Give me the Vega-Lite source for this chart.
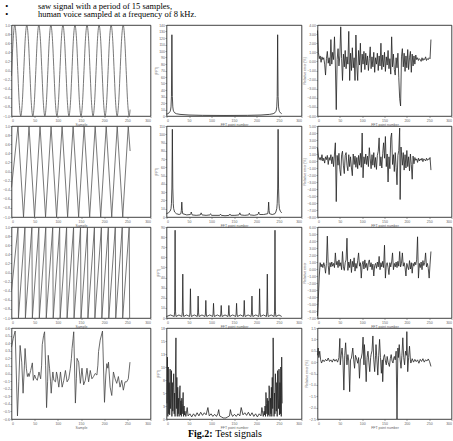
{
"$schema": "https://vega.github.io/schema/vega-lite/v6.json",
"padding": {"left": 1.5, "top": 1, "right": 0, "bottom": 0},
"background": "white",
"title": {"text": ["•\u00a0\u00a0\u00a0\u00a0\u00a0\u00a0\u00a0\u00a0\u00a0\u00a0\u00a0\u00a0\u00a0\u00a0saw signal with a period of 15 samples,", "•\u00a0\u00a0\u00a0\u00a0\u00a0\u00a0\u00a0\u00a0\u00a0\u00a0\u00a0\u00a0\u00a0\u00a0human voice sampled at a frequency of 8 kHz."], "anchor": "start", "frame": "bounds", "font": "Liberation Serif", "fontSize": 8.5, "fontWeight": "normal", "lineHeight": 8.5, "offset": 4, "dx": 3, "color": "#000"},
"datasets": {
"a1": [{"x":0,"y":-0.12},{"x":0.5,"y":0},{"x":3.75,"y":0.71},{"x":7,"y":1},{"x":10.25,"y":0.71},{"x":13.5,"y":0},{"x":16.75,"y":-0.71},{"x":20,"y":-1},{"x":23.25,"y":-0.71},
{"x":26.5,"y":0},{"x":29.75,"y":0.71},{"x":33,"y":1},{"x":36.25,"y":0.71},{"x":39.5,"y":0},{"x":42.75,"y":-0.71},{"x":46,"y":-1},{"x":49.25,"y":-0.71},
{"x":52.5,"y":0},{"x":55.75,"y":0.71},{"x":59,"y":1},{"x":62.25,"y":0.71},{"x":65.5,"y":0},{"x":68.75,"y":-0.71},{"x":72,"y":-1},{"x":75.25,"y":-0.71},
{"x":78.5,"y":0},{"x":81.75,"y":0.71},{"x":85,"y":1},{"x":88.25,"y":0.71},{"x":91.5,"y":0},{"x":94.75,"y":-0.71},{"x":98,"y":-1},{"x":101.25,"y":-0.71},
{"x":104.5,"y":0},{"x":107.75,"y":0.71},{"x":111,"y":1},{"x":114.25,"y":0.71},{"x":117.5,"y":0},{"x":120.75,"y":-0.71},{"x":124,"y":-1},{"x":127.25,"y":-0.71},
{"x":130.5,"y":0},{"x":133.75,"y":0.71},{"x":137,"y":1},{"x":140.25,"y":0.71},{"x":143.5,"y":0},{"x":146.75,"y":-0.71},{"x":150,"y":-1},{"x":153.25,"y":-0.71},
{"x":156.5,"y":0},{"x":159.75,"y":0.71},{"x":163,"y":1},{"x":166.25,"y":0.71},{"x":169.5,"y":0},{"x":172.75,"y":-0.71},{"x":176,"y":-1},{"x":179.25,"y":-0.71},
{"x":182.5,"y":0},{"x":185.75,"y":0.71},{"x":189,"y":1},{"x":192.25,"y":0.71},{"x":195.5,"y":0},{"x":198.75,"y":-0.71},{"x":202,"y":-1},{"x":205.25,"y":-0.71},
{"x":208.5,"y":0},{"x":211.75,"y":0.71},{"x":215,"y":1},{"x":218.25,"y":0.71},{"x":221.5,"y":0},{"x":224.75,"y":-0.71},{"x":228,"y":-1},{"x":231.25,"y":-0.71},
{"x":234.5,"y":0},{"x":237.75,"y":0.71},{"x":241,"y":1},{"x":244.25,"y":0.71},{"x":247.5,"y":0},{"x":250.75,"y":-0.71},{"x":254,"y":-1},{"x":256,"y":-0.86}],
"a2": [{"x":0,"y":-0.35},{"x":14,"y":1},{"x":25.9,"y":-1},{"x":37.8,"y":1},{"x":49.7,"y":-1},{"x":61.6,"y":1},{"x":73.5,"y":-1},{"x":85.4,"y":1},{"x":97.3,"y":-1},{"x":109.2,"y":1},{"x":121.1,"y":-1},{"x":133,"y":1},{"x":144.9,"y":-1},{"x":156.8,"y":1},{"x":168.7,"y":-1},{"x":180.6,"y":1},{"x":192.5,"y":-1},{"x":204.4,"y":1},{"x":216.3,"y":-1},{"x":228.2,"y":1},{"x":240.1,"y":-1},{"x":252,"y":1},{"x":256,"y":0.45}],
"a3": [{"x":0,"y":-0.4},{"x":14,"y":1},{"x":15,"y":-1},{"x":29,"y":1},{"x":30,"y":-1},{"x":44,"y":1},{"x":45,"y":-1},{"x":59,"y":1},{"x":60,"y":-1},{"x":74,"y":1},{"x":75,"y":-1},{"x":89,"y":1},{"x":90,"y":-1},{"x":104,"y":1},{"x":105,"y":-1},{"x":119,"y":1},{"x":120,"y":-1},{"x":134,"y":1},{"x":135,"y":-1},{"x":149,"y":1},{"x":150,"y":-1},{"x":164,"y":1},{"x":165,"y":-1},{"x":179,"y":1},{"x":180,"y":-1},{"x":194,"y":1},{"x":195,"y":-1},{"x":209,"y":1},{"x":210,"y":-1},{"x":224,"y":1},{"x":225,"y":-1},{"x":239,"y":1},{"x":240,"y":-1},{"x":254,"y":1},{"x":255,"y":-1}],
"a4": [{"x":0,"y":0.35},{"x":3.6,"y":0.46},{"x":7.9,"y":0.56},{"x":12.9,"y":-0.56},{"x":15.7,"y":-0.11},{"x":18.6,"y":0.37},{"x":22.1,"y":0.15},{"x":25,"y":-0.26},{"x":27.9,"y":0.11},{"x":29.3,"y":0.33},{"x":32.1,"y":0.07},{"x":34.3,"y":-0.04},{"x":36.4,"y":0},{"x":37.9,"y":-0.04},{"x":41.4,"y":0.04},{"x":45,"y":0.14},{"x":47.1,"y":-0.09},{"x":50,"y":-0.02},{"x":52.1,"y":-0.06},{"x":55.7,"y":-0.09},{"x":59.3,"y":0.02},{"x":62.9,"y":-0.07},{"x":65,"y":0.11},{"x":66.4,"y":0.38},{"x":69.3,"y":0.5},{"x":71.4,"y":0.55},{"x":73.6,"y":0.11},{"x":75.7,"y":-0.45},{"x":77.9,"y":-0.11},{"x":79.3,"y":0.24},{"x":82.1,"y":0.07},{"x":84.3,"y":-0.11},{"x":85.7,"y":-0.26},{"x":87.9,"y":-0.07},{"x":89.3,"y":0.02},{"x":91.4,"y":-0.09},{"x":95,"y":-0.11},{"x":97.1,"y":0.02},{"x":98.6,"y":-0.02},{"x":102.1,"y":-0.18},{"x":105.7,"y":0.02},{"x":109.3,"y":-0.18},{"x":112.9,"y":-0.09},{"x":116.4,"y":0.04},{"x":120,"y":-0.11},{"x":123.6,"y":-0.07},{"x":127.1,"y":0.07},{"x":129.3,"y":0.2},{"x":130.7,"y":0.33},{"x":132.9,"y":0.46},{"x":134.3,"y":0.55},{"x":137.9,"y":-0.39},{"x":140,"y":-0.07},{"x":141.4,"y":0.2},{"x":145,"y":0.15},{"x":148.6,"y":-0.13},{"x":152.1,"y":0.07},{"x":155.7,"y":-0.15},{"x":159.3,"y":-0.09},{"x":162.9,"y":0.07},{"x":166.4,"y":-0.11},{"x":170,"y":0.04},{"x":173.6,"y":-0.07},{"x":177.1,"y":-0.04},{"x":180.7,"y":0},{"x":184.3,"y":-0.02},{"x":186.4,"y":0.11},{"x":187.9,"y":0.29},{"x":191.4,"y":0.44},{"x":196.4,"y":0.56},{"x":200.7,"y":-0.38},{"x":203.6,"y":-0.02},{"x":205.7,"y":0.13},{"x":207.9,"y":0.07},{"x":209.3,"y":0.15},{"x":212.9,"y":-0.18},{"x":216.4,"y":-0.29},{"x":220,"y":0.02},{"x":223.6,"y":-0.07},{"x":227.1,"y":-0.13},{"x":230.7,"y":-0.04},{"x":234.3,"y":-0.18},{"x":237.9,"y":-0.09},{"x":241.4,"y":-0.22},{"x":245,"y":-0.11},{"x":248.6,"y":-0.11},{"x":252.1,"y":-0.07},{"x":255.7,"y":0.15}],
"b1": [{"x":0,"y":3},{"x":3,"y":3.5},{"x":6,"y":5},{"x":8,"y":7},{"x":9,"y":9},{"x":10,"y":14},{"x":11,"y":30},{"x":12,"y":125},{"x":13,"y":30},{"x":14,"y":14},{"x":15,"y":9},{"x":16,"y":7},{"x":18,"y":5},{"x":22,"y":3.5},{"x":30,"y":2.5},{"x":50,"y":1.5},{"x":80,"y":1},{"x":130,"y":0.8},{"x":180,"y":1},{"x":210,"y":1.5},{"x":229,"y":2.5},{"x":237,"y":3.5},{"x":241,"y":5},{"x":243,"y":7},{"x":244,"y":9},{"x":245,"y":14},{"x":246,"y":30},{"x":247,"y":125},{"x":248,"y":30},{"x":249,"y":14},{"x":250,"y":9},{"x":251,"y":7},{"x":253,"y":5},{"x":256,"y":3.5}],
"b2": [{"x":0,"y":4},{"x":4,"y":5},{"x":8,"y":7},{"x":10,"y":10},{"x":11,"y":16},{"x":12,"y":35},{"x":13,"y":106},{"x":14,"y":35},{"x":15,"y":16},{"x":16,"y":10},{"x":18,"y":6},{"x":22,"y":4},{"x":28,"y":3},{"x":32,"y":4},{"x":33,"y":8},{"x":34,"y":18},{"x":35,"y":8},{"x":36,"y":4},{"x":45,"y":2.5},{"x":53,"y":3},{"x":54,"y":4},{"x":55,"y":6},{"x":56,"y":4},{"x":57,"y":2.5},{"x":66,"y":2},{"x":75,"y":2.5},{"x":76,"y":3.5},{"x":77,"y":5},{"x":78,"y":3.5},{"x":79,"y":2.5},{"x":88,"y":2},{"x":96,"y":2.5},{"x":97,"y":3},{"x":98,"y":4},{"x":99,"y":3},{"x":100,"y":2},{"x":110,"y":2},{"x":118,"y":2},{"x":119,"y":2.5},{"x":120,"y":3.5},{"x":121,"y":2.5},{"x":122,"y":2},{"x":130,"y":1.5},{"x":139,"y":2},{"x":140,"y":2.5},{"x":141,"y":3.5},{"x":142,"y":2.5},{"x":143,"y":2},{"x":152,"y":2},{"x":161,"y":2.5},{"x":162,"y":3.5},{"x":163,"y":5},{"x":164,"y":3.5},{"x":165,"y":2.5},{"x":174,"y":2},{"x":182,"y":2.5},{"x":183,"y":3},{"x":184,"y":4.5},{"x":185,"y":3},{"x":186,"y":2.5},{"x":195,"y":2},{"x":203,"y":3},{"x":204,"y":4},{"x":205,"y":6},{"x":206,"y":4},{"x":207,"y":3},{"x":216,"y":3},{"x":225,"y":4},{"x":226,"y":8},{"x":227,"y":18},{"x":228,"y":8},{"x":229,"y":4},{"x":235,"y":3},{"x":241,"y":4},{"x":243,"y":6},{"x":245,"y":10},{"x":246,"y":16},{"x":247,"y":35},{"x":248,"y":106},{"x":249,"y":35},{"x":250,"y":16},{"x":251,"y":10},{"x":253,"y":7},{"x":256,"y":5}],
"b3": [{"x":0,"y":1.5},{"x":9,"y":3},
{"x":17.1,"y":1.5},{"x":18.1,"y":6},{"x":19.1,"y":86.8},{"x":20.1,"y":6},{"x":21.1,"y":1.5},{"x":27.65,"y":3},
{"x":34.2,"y":1.5},{"x":35.2,"y":6},{"x":36.2,"y":43.4},{"x":37.2,"y":6},{"x":38.2,"y":1.5},{"x":44.7,"y":3},
{"x":51.2,"y":1.5},{"x":52.2,"y":5},{"x":53.2,"y":28.9},{"x":54.2,"y":5},{"x":55.2,"y":1.5},{"x":61.75,"y":3},
{"x":68.3,"y":1.5},{"x":69.3,"y":5},{"x":70.3,"y":21.7},{"x":71.3,"y":5},{"x":72.3,"y":1.5},{"x":78.85,"y":3},
{"x":85.4,"y":1.5},{"x":86.4,"y":4},{"x":87.4,"y":17.4},{"x":88.4,"y":4},{"x":89.4,"y":1.5},{"x":95.95,"y":3},
{"x":102.5,"y":1.5},{"x":103.5,"y":4},{"x":104.5,"y":14.5},{"x":105.5,"y":4},{"x":106.5,"y":1.5},{"x":113.05,"y":3},
{"x":119.6,"y":1.5},{"x":120.6,"y":4},{"x":121.6,"y":12.4},{"x":122.6,"y":4},{"x":123.6,"y":1.5},{"x":130.1,"y":3},
{"x":136.6,"y":1.5},{"x":137.6,"y":4},{"x":138.6,"y":12.4},{"x":139.6,"y":4},{"x":140.6,"y":1.5},{"x":147.15,"y":3},
{"x":153.7,"y":1.5},{"x":154.7,"y":4},{"x":155.7,"y":14.5},{"x":156.7,"y":4},{"x":157.7,"y":1.5},{"x":164.25,"y":3},
{"x":170.8,"y":1.5},{"x":171.8,"y":4},{"x":172.8,"y":17.4},{"x":173.8,"y":4},{"x":174.8,"y":1.5},{"x":181.35,"y":3},
{"x":187.9,"y":1.5},{"x":188.9,"y":5},{"x":189.9,"y":21.7},{"x":190.9,"y":5},{"x":191.9,"y":1.5},{"x":198.4,"y":3},
{"x":204.9,"y":1.5},{"x":205.9,"y":5},{"x":206.9,"y":28.9},{"x":207.9,"y":5},{"x":208.9,"y":1.5},{"x":215.45,"y":3},
{"x":222,"y":1.5},{"x":223,"y":6},{"x":224,"y":43.4},{"x":225,"y":6},{"x":226,"y":1.5},{"x":232.55,"y":3},
{"x":239.1,"y":1.5},{"x":240.1,"y":6},{"x":241.1,"y":86.8},{"x":242.1,"y":6},{"x":243.1,"y":1.5},{"x":250,"y":3},{"x":256,"y":1.5}],
"b4": [{"x":1,"y":3},{"x":2,"y":11.9},{"x":3,"y":0.5},{"x":4,"y":10},{"x":5,"y":1},{"x":6,"y":7},{"x":7,"y":0.8},{"x":8,"y":9.6},{"x":9,"y":2},{"x":10,"y":4},{"x":11,"y":9.3},{"x":12,"y":0.5},{"x":13,"y":7},{"x":14,"y":1.5},{"x":15,"y":6},{"x":16,"y":8.7},{"x":17,"y":1},{"x":18,"y":5},{"x":19,"y":0.5},{"x":20,"y":10},{"x":21,"y":15.6},{"x":22,"y":2},{"x":23,"y":8},{"x":24,"y":0.5},{"x":25,"y":6.1},{"x":26,"y":1},{"x":27,"y":4},{"x":28,"y":0.5},{"x":29,"y":5},{"x":30,"y":6.4},{"x":31,"y":0.8},{"x":32,"y":3.5},{"x":33,"y":0.5},{"x":34,"y":4},{"x":35,"y":1},{"x":36,"y":3},{"x":37,"y":5.1},{"x":38,"y":0.5},{"x":39,"y":2.5},{"x":40,"y":0.8},{"x":41,"y":1.5},{"x":43,"y":0.5},{"x":46,"y":2.2},{"x":48,"y":0.6},{"x":52,"y":1},{"x":56,"y":0.4},{"x":60,"y":1},{"x":64,"y":0.5},{"x":68,"y":1.2},{"x":72,"y":0.6},{"x":76,"y":1.3},{"x":80,"y":0.7},{"x":84,"y":1.2},{"x":88,"y":0.8},{"x":92,"y":2.2},{"x":95,"y":0.6},{"x":99,"y":1},{"x":103,"y":0.5},{"x":107,"y":0.9},{"x":111,"y":0.5},{"x":114,"y":1},{"x":116,"y":1.8},{"x":118,"y":0.6},{"x":122,"y":0.4},{"x":126,"y":0.2},{"x":129,"y":0.2},
{"x":132,"y":0.2},{"x":136,"y":0.4},{"x":140,"y":0.6},{"x":142,"y":1.8},{"x":144,"y":1},{"x":147,"y":0.5},{"x":151,"y":0.9},{"x":155,"y":0.5},{"x":159,"y":1},{"x":163,"y":0.6},{"x":166,"y":2.2},{"x":170,"y":0.8},{"x":174,"y":1.2},{"x":178,"y":0.7},{"x":182,"y":1.3},{"x":186,"y":0.6},{"x":190,"y":1.2},{"x":194,"y":0.5},{"x":198,"y":1},{"x":202,"y":0.4},{"x":206,"y":1},{"x":210,"y":0.6},{"x":212,"y":2.2},{"x":215,"y":0.5},{"x":217,"y":1.5},{"x":218,"y":0.8},{"x":219,"y":2.5},{"x":220,"y":0.5},{"x":221,"y":5.1},{"x":222,"y":3},{"x":223,"y":1},{"x":224,"y":4},{"x":225,"y":0.5},{"x":226,"y":3.5},{"x":227,"y":0.8},{"x":228,"y":6.4},{"x":229,"y":5},{"x":230,"y":0.5},{"x":231,"y":4},{"x":232,"y":1},{"x":233,"y":6.1},{"x":234,"y":0.5},{"x":235,"y":8},{"x":236,"y":2},{"x":237,"y":15.6},{"x":238,"y":10},{"x":239,"y":0.5},{"x":240,"y":5},{"x":241,"y":1},{"x":242,"y":8.7},{"x":243,"y":6},{"x":244,"y":1.5},{"x":245,"y":7},{"x":246,"y":0.5},{"x":247,"y":9.3},{"x":248,"y":4},{"x":249,"y":2},{"x":250,"y":9.6},{"x":251,"y":0.8},{"x":252,"y":7},{"x":253,"y":1},{"x":254,"y":10},{"x":255,"y":0.5},{"x":256,"y":11.9},{"x":257,"y":3}],
"c1": [{"x":0,"y":3.4},{"x":2,"y":1},{"x":4,"y":0.3},{"x":6,"y":0.6},{"x":8,"y":-0.1},{"x":10,"y":0.5},{"x":12,"y":0.2},{"x":14,"y":0.4},{"x":16,"y":-0.3},{"x":18,"y":-1.5},{"x":20,"y":0.3},{"x":22,"y":1.1},{"x":24,"y":-0.2},{"x":26,"y":0.4},{"x":28,"y":-0.5},{"x":30,"y":2.4},{"x":32,"y":-0.3},{"x":34,"y":1},{"x":36,"y":0.2},{"x":38,"y":2.7},{"x":40,"y":-0.4},{"x":42,"y":-5.3},{"x":44,"y":0.2},{"x":46,"y":1.4},{"x":48,"y":-0.5},{"x":50,"y":0.6},{"x":52,"y":3.8},{"x":54,"y":0.3},{"x":56,"y":-2.1},{"x":58,"y":0.8},{"x":60,"y":-0.6},{"x":62,"y":1.2},{"x":64,"y":-0.8},{"x":66,"y":0.5},{"x":68,"y":-0.3},{"x":70,"y":3.3},{"x":72,"y":-2.1},{"x":74,"y":0.9},{"x":76,"y":-1},{"x":78,"y":1.5},{"x":80,"y":-0.7},{"x":82,"y":0.4},{"x":84,"y":-2.1},{"x":86,"y":2.9},{"x":88,"y":-0.5},{"x":90,"y":-2.1},{"x":92,"y":1.2},{"x":94,"y":-0.4},{"x":96,"y":2},{"x":98,"y":-1.2},{"x":100,"y":0.8},{"x":102,"y":-0.3},{"x":104,"y":1.1},{"x":106,"y":-0.9},{"x":108,"y":0.9},{"x":110,"y":-0.4},{"x":112,"y":0.6},{"x":114,"y":-1},{"x":116,"y":0.3},{"x":118,"y":1.6},{"x":120,"y":-0.8},{"x":122,"y":0.5},{"x":124,"y":-0.6},{"x":126,"y":1},{"x":128,"y":-1.2},{"x":130,"y":0.4},{"x":132,"y":-0.3},{"x":134,"y":0.9},{"x":136,"y":-1},{"x":138,"y":0.6},{"x":140,"y":-0.5},{"x":142,"y":2},{"x":144,"y":-0.9},{"x":146,"y":0.7},{"x":148,"y":-0.6},{"x":150,"y":1},{"x":152,"y":-1.1},{"x":154,"y":0.5},{"x":156,"y":-0.4},{"x":158,"y":1.2},{"x":160,"y":-0.8},{"x":162,"y":0.3},{"x":164,"y":-1.4},{"x":166,"y":2.7},{"x":168,"y":-0.6},{"x":170,"y":0.8},{"x":172,"y":-0.9},{"x":174,"y":-1.5},{"x":176,"y":0.4},{"x":178,"y":-0.7},{"x":180,"y":0.9},{"x":182,"y":-1.8},{"x":184,"y":-4.1},{"x":186,"y":-4.9},{"x":188,"y":0.5},{"x":190,"y":1.4},{"x":192,"y":-0.6},{"x":194,"y":0.9},{"x":196,"y":-1.1},{"x":198,"y":0.6},{"x":200,"y":-0.7},{"x":202,"y":1.3},{"x":204,"y":-0.9},{"x":206,"y":0.4},{"x":208,"y":1.1},{"x":210,"y":-1.2},{"x":212,"y":0.8},{"x":214,"y":-0.5},{"x":216,"y":0.6},{"x":218,"y":-0.3},{"x":220,"y":0.7},{"x":222,"y":0.2},{"x":224,"y":0.4},{"x":226,"y":0.1},{"x":228,"y":0.3},{"x":230,"y":0.2},{"x":232,"y":0},{"x":234,"y":0.4},{"x":236,"y":0.1},{"x":238,"y":0.3},{"x":240,"y":0.2},{"x":242,"y":0.5},{"x":244,"y":0.1},{"x":246,"y":0.3},{"x":248,"y":0.2},{"x":250,"y":0.4},{"x":252,"y":0.3},{"x":254,"y":2.4}],
"c2": [{"x":0,"y":1.9},{"x":2,"y":0.7},{"x":4,"y":0.2},{"x":6,"y":0.5},{"x":8,"y":0.1},{"x":10,"y":0.9},{"x":12,"y":0},{"x":14,"y":0.4},{"x":16,"y":-0.3},{"x":18,"y":0.6},{"x":20,"y":0.2},{"x":22,"y":0.8},{"x":24,"y":-0.5},{"x":26,"y":0.5},{"x":28,"y":0.1},{"x":30,"y":0.9},{"x":32,"y":-0.4},{"x":34,"y":0.6},{"x":36,"y":-0.8},{"x":38,"y":1},{"x":40,"y":2.6},{"x":42,"y":-5.8},{"x":44,"y":0.8},{"x":46,"y":-0.6},{"x":48,"y":1.1},{"x":50,"y":-1.2},{"x":52,"y":-2.1},{"x":54,"y":0.9},{"x":56,"y":1.4},{"x":58,"y":-0.7},{"x":60,"y":-1.8},{"x":62,"y":0.8},{"x":64,"y":1.2},{"x":66,"y":-0.6},{"x":68,"y":-1.4},{"x":70,"y":0.9},{"x":72,"y":-0.8},{"x":74,"y":0.6},{"x":76,"y":-1},{"x":78,"y":-2.1},{"x":80,"y":1},{"x":82,"y":-0.5},{"x":84,"y":0.7},{"x":86,"y":-0.9},{"x":88,"y":0.5},{"x":90,"y":-1.1},{"x":92,"y":0.8},{"x":94,"y":-0.6},{"x":96,"y":1.1},{"x":98,"y":-0.9},{"x":100,"y":4},{"x":102,"y":-2.4},{"x":104,"y":0.6},{"x":106,"y":-0.4},{"x":108,"y":1},{"x":110,"y":-0.5},{"x":112,"y":0.7},{"x":114,"y":-0.8},{"x":116,"y":1.9},{"x":118,"y":0.3},{"x":120,"y":-1.1},{"x":122,"y":0.9},{"x":124,"y":-0.6},{"x":126,"y":1.2},{"x":128,"y":-0.9},{"x":130,"y":0.5},{"x":132,"y":-1.2},{"x":134,"y":0.8},{"x":136,"y":1.4},{"x":138,"y":3.3},{"x":140,"y":-0.7},{"x":142,"y":0.6},{"x":144,"y":-1},{"x":146,"y":1.1},{"x":148,"y":2.6},{"x":150,"y":0.4},{"x":152,"y":3.5},{"x":154,"y":-0.8},{"x":156,"y":1},{"x":158,"y":-3},{"x":160,"y":0.6},{"x":162,"y":-1.1},{"x":164,"y":3.3},{"x":166,"y":4},{"x":168,"y":-0.5},{"x":170,"y":0.9},{"x":172,"y":-1.5},{"x":174,"y":1.2},{"x":176,"y":-0.9},{"x":178,"y":-3.4},{"x":180,"y":0.8},{"x":182,"y":1.5},{"x":184,"y":4.7},{"x":185,"y":-5.5},{"x":187,"y":2},{"x":190,"y":-0.6},{"x":192,"y":1.2},{"x":194,"y":-1.3},{"x":196,"y":0.9},{"x":198,"y":-1},{"x":200,"y":1.5},{"x":202,"y":-0.8},{"x":204,"y":0.6},{"x":206,"y":-1.4},{"x":208,"y":1},{"x":210,"y":-0.5},{"x":212,"y":-2.6},{"x":214,"y":0.7},{"x":216,"y":-0.4},{"x":218,"y":0.5},{"x":220,"y":0.1},{"x":222,"y":0.3},{"x":224,"y":-0.2},{"x":226,"y":0.4},{"x":228,"y":0},{"x":230,"y":0.3},{"x":232,"y":0.1},{"x":234,"y":0.4},{"x":236,"y":-0.1},{"x":238,"y":0.3},{"x":240,"y":0.2},{"x":242,"y":0},{"x":244,"y":0.4},{"x":246,"y":0.1},{"x":248,"y":0.3},{"x":250,"y":0.2},{"x":252,"y":0.5},{"x":254,"y":-1.3}],
"c3": [{"x":0,"y":-6.7},{"x":1.5,"y":-4.8},{"x":4,"y":-1},{"x":6,"y":0.9},{"x":8,"y":0.3},{"x":10,"y":0.7},{"x":12,"y":0.2},{"x":14,"y":0.9},{"x":16,"y":0.4},{"x":18,"y":-0.6},{"x":20,"y":0.8},{"x":22,"y":4.7},{"x":24,"y":0.5},{"x":26,"y":-0.8},{"x":28,"y":0.9},{"x":30,"y":0.3},{"x":32,"y":1},{"x":34,"y":0.4},{"x":36,"y":0.8},{"x":38,"y":0.2},{"x":40,"y":2.3},{"x":42,"y":0.6},{"x":44,"y":1.1},{"x":46,"y":0.2},{"x":48,"y":1.3},{"x":50,"y":0.4},{"x":52,"y":0.9},{"x":54,"y":-0.1},{"x":56,"y":2.5},{"x":58,"y":0.3},{"x":60,"y":-0.2},{"x":62,"y":0.9},{"x":64,"y":1.3},{"x":66,"y":4.4},{"x":68,"y":-0.2},{"x":70,"y":1},{"x":72,"y":0.2},{"x":74,"y":1.4},{"x":76,"y":-0.5},{"x":78,"y":1.1},{"x":80,"y":0.3},{"x":82,"y":1.6},{"x":84,"y":-0.3},{"x":86,"y":0.8},{"x":88,"y":0.1},{"x":90,"y":1.2},{"x":92,"y":2.3},{"x":94,"y":0.4},{"x":96,"y":0.9},{"x":98,"y":-1.3},{"x":100,"y":0.6},{"x":102,"y":1.1},{"x":104,"y":0},{"x":106,"y":1.3},{"x":108,"y":0.2},{"x":110,"y":0.8},{"x":112,"y":-0.2},{"x":114,"y":0.9},{"x":116,"y":1.3},{"x":118,"y":0.3},{"x":120,"y":0.9},{"x":122,"y":-0.1},{"x":124,"y":0.7},{"x":126,"y":-1},{"x":128,"y":0.5},{"x":130,"y":0.8},{"x":132,"y":0.1},{"x":134,"y":1},{"x":136,"y":0.3},{"x":138,"y":1.8},{"x":140,"y":-0.1},{"x":142,"y":0.9},{"x":144,"y":0.3},{"x":146,"y":1.1},{"x":148,"y":0.2},{"x":150,"y":3.4},{"x":152,"y":-1.3},{"x":154,"y":0.6},{"x":156,"y":0.9},{"x":158,"y":0.2},{"x":160,"y":-0.8},{"x":162,"y":0.9},{"x":164,"y":0.3},{"x":166,"y":1},{"x":168,"y":2.3},{"x":170,"y":-0.1},{"x":172,"y":0.8},{"x":174,"y":0.3},{"x":176,"y":1},{"x":178,"y":0.2},{"x":180,"y":1.1},{"x":182,"y":0.4},{"x":184,"y":2.5},{"x":186,"y":0.3},{"x":188,"y":0.8},{"x":190,"y":2.3},{"x":192,"y":0.4},{"x":194,"y":0.9},{"x":196,"y":0.2},{"x":198,"y":-1},{"x":200,"y":0.8},{"x":202,"y":0.3},{"x":204,"y":-0.1},{"x":206,"y":1.2},{"x":208,"y":0},{"x":210,"y":0.9},{"x":212,"y":-0.6},{"x":214,"y":0.8},{"x":216,"y":0.4},{"x":218,"y":1},{"x":220,"y":0.6},{"x":222,"y":1.3},{"x":224,"y":4.6},{"x":226,"y":-1.3},{"x":228,"y":0.8},{"x":230,"y":0.2},{"x":232,"y":1},{"x":234,"y":-0.1},{"x":236,"y":1.2},{"x":238,"y":0.5},{"x":240,"y":0.9},{"x":242,"y":2.3},{"x":244,"y":0.3},{"x":246,"y":0.8},{"x":248,"y":0.1},{"x":250,"y":-1.3},{"x":252,"y":0.7},{"x":254,"y":2.5}],
"c4": [{"x":0,"y":0.3},{"x":1.5,"y":0.62},{"x":3,"y":0.2},{"x":5,"y":0.48},{"x":7,"y":0.1},{"x":9,"y":-0.04},{"x":12,"y":0.1},{"x":15,"y":0.02},{"x":18,"y":0.12},{"x":21,"y":0.05},{"x":24,"y":0.18},{"x":27,"y":0.03},{"x":30,"y":0.1},{"x":33,"y":0},{"x":36,"y":0.14},{"x":39,"y":0.04},{"x":42,"y":0.12},{"x":45,"y":0},{"x":48,"y":0.2},{"x":50,"y":1.04},{"x":51,"y":-0.12},{"x":53,"y":0.3},{"x":55,"y":0.62},{"x":57,"y":0.1},{"x":59,"y":-1.23},{"x":61,"y":0.3},{"x":63,"y":0.85},{"x":65,"y":0.1},{"x":66,"y":-0.12},{"x":68,"y":0.33},{"x":70,"y":0.05},{"x":72,"y":-1.3},{"x":74,"y":0.1},{"x":76,"y":0.18},{"x":79,"y":0.62},{"x":81,"y":0.1},{"x":83,"y":-0.27},{"x":85,"y":0.3},{"x":87,"y":0.18},{"x":90,"y":-0.05},{"x":92,"y":0.2},{"x":94,"y":-0.71},{"x":96,"y":0.1},{"x":98,"y":0.18},{"x":100,"y":0.4},{"x":102,"y":1.1},{"x":104,"y":-0.12},{"x":105,"y":0.77},{"x":107,"y":0.1},{"x":109,"y":-0.86},{"x":111,"y":0.2},{"x":113,"y":0.48},{"x":115,"y":0},{"x":117,"y":-0.42},{"x":119,"y":0.2},{"x":120,"y":0.33},{"x":122,"y":0.5},{"x":124,"y":1.15},{"x":126,"y":0.1},{"x":128,"y":-0.42},{"x":130,"y":0.3},{"x":131,"y":0.77},{"x":133,"y":0.1},{"x":135,"y":-0.57},{"x":137,"y":0.3},{"x":139,"y":1},{"x":141,"y":0.2},{"x":143,"y":-0.49},{"x":145,"y":0.1},{"x":146,"y":-0.86},{"x":148,"y":0.2},{"x":150,"y":0.33},{"x":152,"y":0.05},{"x":154,"y":-0.12},{"x":156,"y":0.25},{"x":158,"y":0},{"x":161,"y":-0.19},{"x":163,"y":0.15},{"x":165,"y":0.33},{"x":167,"y":0.05},{"x":169,"y":-0.04},{"x":171,"y":0.2},{"x":172,"y":0.25},{"x":174,"y":0.1},{"x":176,"y":0.48},{"x":178,"y":-2.5},{"x":180,"y":0.62},{"x":181,"y":0.2},{"x":183,"y":0.77},{"x":185,"y":0.1},{"x":187,"y":-0.27},{"x":189,"y":0.3},{"x":191,"y":1.07},{"x":193,"y":0.2},{"x":195,"y":-0.12},{"x":197,"y":0.48},{"x":199,"y":0.3},{"x":200,"y":1.34},{"x":202,"y":-0.42},{"x":204,"y":0.2},{"x":206,"y":0.7},{"x":208,"y":0.1},{"x":209,"y":-0.04},{"x":212,"y":0.15},{"x":215,"y":0},{"x":218,"y":0.12},{"x":221,"y":0.02},{"x":224,"y":0.1},{"x":227,"y":-0.05},{"x":230,"y":0.12},{"x":233,"y":0.03},{"x":236,"y":0.15},{"x":239,"y":0},{"x":242,"y":0.1},{"x":245,"y":0.05},{"x":248,"y":0.14},{"x":251,"y":0.02},{"x":254,"y":-0.19}]
},
"spacing": 0,
"vconcat": [
{
"columns": 3,
"bounds": "flush",
"align": "each",
"spacing": {"row": 10, "column": 16},
"concat": [
{"width":139,"height":91,"data":{"name":"a1"},"mark":{"type":"line","color":"#555","strokeWidth":0.8,"interpolate":"monotone"},"encoding":{"x":{"field":"x","type":"quantitative","scale":{"domain":[0,300],"nice":false},"axis":{"values":[0,50,100,150,200,250,300],"title":"Sample"}},"y":{"field":"y","type":"quantitative","scale":{"domain":[-1,1],"nice":false},"axis":{"title":null,"tickCount":10}}}},
{"width":135,"height":91,"data":{"name":"b1"},"mark":{"type":"line","color":"#222","strokeWidth":0.8},"encoding":{"x":{"field":"x","type":"quantitative","scale":{"domain":[0,300],"nice":false},"axis":{"values":[0,50,100,150,200,250,300],"title":"FFT point number"}},"y":{"field":"y","type":"quantitative","scale":{"domain":[0,140],"nice":false},"axis":{"title":"|FFT|","tickCount":14}}}},
{"width":134,"height":91,"data":{"name":"c1"},"mark":{"type":"line","color":"#222","strokeWidth":0.8},"encoding":{"x":{"field":"x","type":"quantitative","scale":{"domain":[0,300],"nice":false},"axis":{"values":[0,50,100,150,200,250,300],"title":"FFT point number"}},"y":{"field":"y","type":"quantitative","scale":{"domain":[-6,4],"nice":false},"axis":{"title":"Relative error [%]","tickCount":10,"format":".2f"}}}},
{"width":139,"height":91,"data":{"name":"a2"},"mark":{"type":"line","color":"#555","strokeWidth":0.8},"encoding":{"x":{"field":"x","type":"quantitative","scale":{"domain":[0,300],"nice":false},"axis":{"values":[0,50,100,150,200,250,300],"title":"Sample"}},"y":{"field":"y","type":"quantitative","scale":{"domain":[-1,1],"nice":false},"axis":{"title":null,"tickCount":10}}}},
{"width":135,"height":91,"data":{"name":"b2"},"mark":{"type":"line","color":"#222","strokeWidth":0.8},"encoding":{"x":{"field":"x","type":"quantitative","scale":{"domain":[0,300],"nice":false},"axis":{"values":[0,50,100,150,200,250,300],"title":"FFT point number"}},"y":{"field":"y","type":"quantitative","scale":{"domain":[0,110],"nice":false},"axis":{"title":"|FFT|","tickCount":11}}}},
{"width":134,"height":91,"data":{"name":"c2"},"mark":{"type":"line","color":"#222","strokeWidth":0.8},"encoding":{"x":{"field":"x","type":"quantitative","scale":{"domain":[0,300],"nice":false},"axis":{"values":[0,50,100,150,200,250,300],"title":"FFT point number"}},"y":{"field":"y","type":"quantitative","scale":{"domain":[-8,5],"nice":false},"axis":{"title":"Relative error [%]","tickCount":13,"format":".2f"}}}},
{"width":139,"height":91,"data":{"name":"a3"},"mark":{"type":"line","color":"#555","strokeWidth":0.8},"encoding":{"x":{"field":"x","type":"quantitative","scale":{"domain":[0,300],"nice":false},"axis":{"values":[0,50,100,150,200,250,300],"title":"Sample"}},"y":{"field":"y","type":"quantitative","scale":{"domain":[-1,1],"nice":false},"axis":{"title":null,"tickCount":10}}}},
{"width":135,"height":91,"data":{"name":"b3"},"mark":{"type":"line","color":"#222","strokeWidth":0.8},"encoding":{"x":{"field":"x","type":"quantitative","scale":{"domain":[0,300],"nice":false},"axis":{"values":[0,50,100,150,200,250,300],"title":"FFT point number"}},"y":{"field":"y","type":"quantitative","scale":{"domain":[0,90],"nice":false},"axis":{"title":"|FFT|","tickCount":9}}}},
{"width":134,"height":91,"data":{"name":"c3"},"mark":{"type":"line","color":"#222","strokeWidth":0.8},"encoding":{"x":{"field":"x","type":"quantitative","scale":{"domain":[0,300],"nice":false},"axis":{"values":[0,50,100,150,200,250,300],"title":"FFT point number"}},"y":{"field":"y","type":"quantitative","scale":{"domain":[-7,6],"nice":false},"axis":{"title":"Relative error","tickCount":13,"format":".2f"}}}},
{"width":139,"height":91,"data":{"name":"a4"},"mark":{"type":"line","color":"#444","strokeWidth":0.8},"encoding":{"x":{"field":"x","type":"quantitative","scale":{"domain":[0,300],"nice":false},"axis":{"values":[0,50,100,150,200,250,300],"title":"Sample"}},"y":{"field":"y","type":"quantitative","scale":{"domain":[-0.6,0.6],"nice":false},"axis":{"title":null,"tickCount":12}}}},
{"width":135,"height":91,"data":{"name":"b4"},"mark":{"type":"line","color":"#222","strokeWidth":0.8},"encoding":{"x":{"field":"x","type":"quantitative","scale":{"domain":[0,300],"nice":false},"axis":{"values":[0,50,100,150,200,250,300],"title":"FFT point number"}},"y":{"field":"y","type":"quantitative","scale":{"domain":[0,17.5],"nice":false},"axis":{"title":"|FFT|","values":[0,2.5,5,7.5,10,12.5,15,17.5]}}}},
{"width":134,"height":91,"data":{"name":"c4"},"mark":{"type":"line","color":"#222","strokeWidth":0.8},"encoding":{"x":{"field":"x","type":"quantitative","scale":{"domain":[0,300],"nice":false},"axis":{"values":[0,50,100,150,200,250,300],"title":"FFT point number"}},"y":{"field":"y","type":"quantitative","scale":{"domain":[-2.5,1.5],"nice":false},"axis":{"title":"Relative error [%]","tickCount":8}}}}
]
},
{
"width": 440, "height": 8,
"view": {"stroke": null},
"data": {"values": [{"p": 0.455, "a": "Fig.2:", "b": "Test signals"}]},
"layer": [
{"mark": {"type": "text", "align": "right", "baseline": "middle", "font": "Liberation Serif", "fontSize": 10, "fontWeight": "bold", "color": "#000", "dx": 1}, "encoding": {"x": {"field": "p", "type": "quantitative", "scale": {"domain": [0, 1]}, "axis": null}, "text": {"field": "a"}}},
{"mark": {"type": "text", "align": "left", "baseline": "middle", "font": "Liberation Serif", "fontSize": 10, "color": "#000", "dx": 3.5}, "encoding": {"x": {"field": "p", "type": "quantitative", "scale": {"domain": [0, 1]}, "axis": null}, "text": {"field": "b"}}}
]
}
],
"config": {
"view": {"stroke": "#111", "strokeWidth": 0.8},
"axis": {"labelFontSize": 3.5, "titleFontSize": 3.5, "labelFont": "Liberation Sans", "titleFont": "Liberation Sans", "titleFontWeight": "normal", "labelColor": "#666", "titleColor": "#666", "tickColor": "#444", "tickSize": 1.5, "tickWidth": 0.5, "domain": false, "grid": false, "labelPadding": 0.5, "titlePadding": 0.5}
}
}
